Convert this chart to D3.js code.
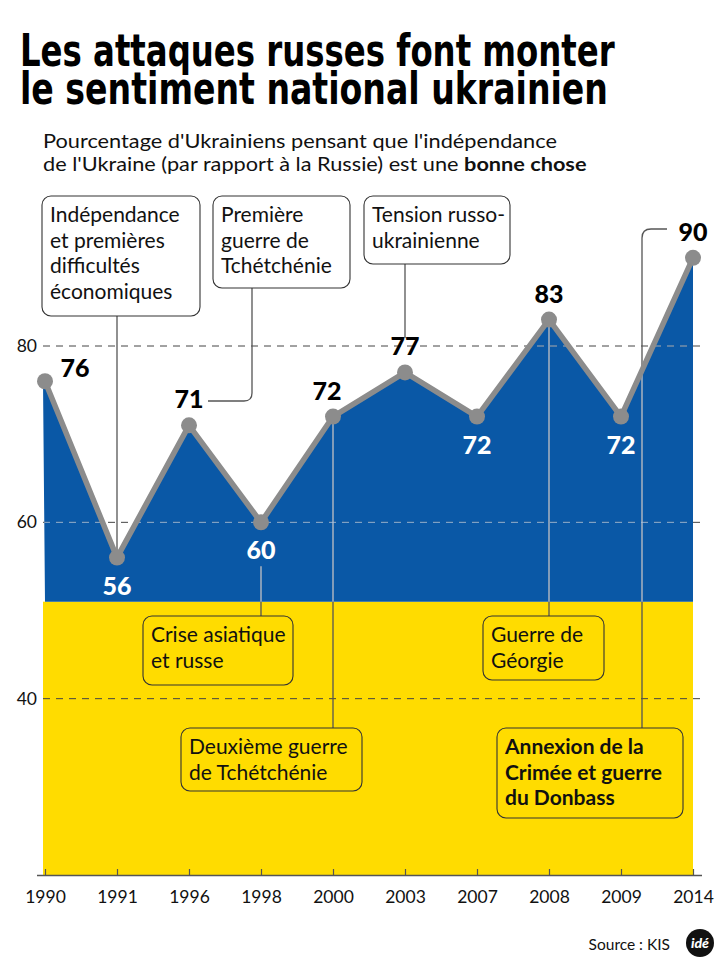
<!DOCTYPE html>
<html><head><meta charset="utf-8">
<script src="https://cdn.jsdelivr.net/npm/d3@7"></script>
<style>
html,body{margin:0;padding:0;background:#fff;}
svg{display:block;}
</style></head>
<body>
<svg id="c" width="720" height="960"></svg>
<script>
// ---- data ----
const years = ["1990","1991","1996","1998","2000","2003","2007","2008","2009","2014"];
const values = [76,56,71,60,72,77,72,83,72,90];
const yTicks = [40,60,80];
const splitValue = 51;
const titleLines = ["Les attaques russes font monter","le sentiment national ukrainien"];
const subtitleLine1 = "Pourcentage d'Ukrainiens pensant que l'indépendance";
const subtitleLine2a = "de l'Ukraine (par rapport à la Russie) est une ";
const subtitleLine2b = "bonne chose";
const noteTexts = [
  ["Indépendance","et premières","difficultés","économiques"],
  ["Première","guerre de","Tchétchénie"],
  ["Tension russo-","ukrainienne"],
  ["Crise asiatique","et russe"],
  ["Deuxième guerre","de Tchétchénie"],
  ["Guerre de","Géorgie"],
  ["Annexion de la","Crimée et guerre","du Donbass"]
];
const sourceText = "Source : KIS";

// ---- layout ----
const sans = "'Lato','Open Sans','DejaVu Sans',sans-serif";
const cond = "'Liberation Sans Narrow','DejaVu Sans Condensed','Roboto Condensed',sans-serif";
const BLUE = "#0a58a6", YELLOW = "#ffdc00", LINEGRAY = "#8c8c8c";

const svg = d3.select("#c");
const x = d3.scalePoint().domain(years).range([45, 693]);
const y = d3.scaleLinear().domain([20, 80]).range([875, 346]);
const data = years.map((yr,i)=>({year:yr, value:values[i]}));

// title: condensed by horizontal scaling to the reference width
titleLines.forEach((t,i)=>{
  const g = svg.append("g");
  const tx = g.append("text").attr("x",0).attr("y",0)
    .attr("font-family",cond).attr("font-weight","bold").attr("font-size",44)
    .attr("fill","#000").text(t);
  const w = tx.node().getComputedTextLength();
  const target = i===0 ? 595 : 588;
  g.attr("transform",`translate(20,${[66,104][i]}) scale(${(target/w).toFixed(4)},1)`);
});
// subtitle
const s1 = svg.append("g");
const s1t = s1.append("text").attr("font-family",sans).attr("font-size",18.5).attr("fill","#111").text(subtitleLine1);
s1.attr("transform",`translate(43,148) scale(${(514/s1t.node().getComputedTextLength()).toFixed(4)},1)`);
const s2 = svg.append("g");
const s2t = s2.append("text").attr("font-family",sans).attr("font-size",18.5).attr("fill","#111");
s2t.append("tspan").text(subtitleLine2a);
s2t.append("tspan").attr("font-weight","bold").text(subtitleLine2b);
s2.attr("transform",`translate(43,171) scale(${(544/s2t.node().getComputedTextLength()).toFixed(4)},1)`);

// yellow band
const x0 = 43, x1 = 693;
svg.append("rect").attr("x",x0).attr("y",y(splitValue)).attr("width",x1-x0)
  .attr("height",y(20)-y(splitValue)).attr("fill",YELLOW);

// blue area
const area = d3.area().x(d=>x(d.year)).y0(y(splitValue)).y1(d=>y(d.value));
const areaPath = area(data).replace(/^M[\d.]+/, "M"+x0);
svg.append("path").attr("d", areaPath).attr("fill",BLUE);
svg.append("clipPath").attr("id","blueclip").append("path").attr("d",areaPath);

// gridlines
const grid = svg.append("g");
yTicks.forEach(v=>{
  grid.append("line").attr("x1",x0).attr("x2",702).attr("y1",y(v)).attr("y2",y(v))
    .attr("stroke","#444").attr("stroke-width",1).attr("stroke-dasharray","7,6");
});
// y tick labels
yTicks.forEach(v=>{
  svg.append("text").attr("x",37).attr("y",y(v)+6).attr("text-anchor","end")
    .attr("font-family",sans).attr("font-size",17.5).attr("fill","#111").text(v);
});

// note boxes
const noteLayout = [
  {x:42, y:196, w:158, h:120, fill:"#fff"},
  {x:213,y:196, w:137, h:92, fill:"#fff"},
  {x:364,y:196, w:146, h:68, fill:"#fff"},
  {x:143,y:616, w:150, h:69, fill:YELLOW},
  {x:181,y:728, w:181, h:63, fill:YELLOW},
  {x:483,y:616, w:121, h:64, fill:YELLOW},
  {x:497,y:728, w:186, h:90, fill:YELLOW, bold:true}
];
const valOf = yr => values[years.indexOf(yr)];
const leaderPaths = [
  `M${x("1991")},316V${y(valOf("1991"))}`,
  `M252,288V393Q252,401 244,401H208`,
  `M${x("2003")},264V338`,
  `M${x("1998")},${y(valOf("1998"))+44}V616`,
  `M${x("2000")},${y(valOf("2000"))}V728`,
  `M${x("2008")},${y(valOf("2008"))}V616`,
  `M642,728V238Q642,229 651,229H667`
];
const leaders = svg.append("g");
leaderPaths.forEach(p=>{
  leaders.append("path").attr("d",p).attr("fill","none").attr("stroke","#555").attr("stroke-width",1.3);
});
// light overlay on blue
const over = svg.append("g").attr("clip-path","url(#blueclip)");
yTicks.forEach(v=>{
  over.append("line").attr("x1",x0).attr("x2",702).attr("y1",y(v)).attr("y2",y(v))
    .attr("stroke","#8fb4dc").attr("stroke-width",1).attr("stroke-dasharray","7,6");
});
leaderPaths.forEach(p=>{
  over.append("path").attr("d",p).attr("fill","none").attr("stroke","#a9c3e0").attr("stroke-width",1.3);
});

noteLayout.forEach((L,i)=>{
  const g = svg.append("g");
  g.append("rect").attr("x",L.x).attr("y",L.y).attr("width",L.w).attr("height",L.h)
    .attr("rx",9).attr("fill",L.fill).attr("stroke","#333").attr("stroke-width",1.1);
  noteTexts[i].forEach((t,j)=>{
    g.append("text").attr("x",L.x+8).attr("y",L.y+26+j*25.5)
      .attr("font-family",sans).attr("font-size",21)
      .attr("font-weight",L.bold?"bold":"normal").attr("fill","#111").text(t);
  });
});

// line + points
const line = d3.line().x(d=>x(d.year)).y(d=>y(d.value));
svg.append("path").attr("d",line(data)).attr("fill","none").attr("stroke",LINEGRAY)
  .attr("stroke-width",5.5).attr("stroke-linejoin","round");
svg.selectAll("circle.pt").data(data).join("circle").attr("class","pt")
  .attr("cx",d=>x(d.year)).attr("cy",d=>y(d.value)).attr("r",8).attr("fill",LINEGRAY);

// value labels
const labelPos = ["right","below","above","below","above","above","below","above","below","above"];
data.forEach((d,i)=>{
  const p = labelPos[i];
  let lx = x(d.year), ly = y(d.value), col="#000";
  if(p==="right"){ lx += 30; ly -= 4; }
  else if(p==="above"){ ly -= 17; if(d.year==="2000") lx -= 6; }
  else { ly += 37; col="#fff"; }
  svg.append("text").attr("x",lx).attr("y",ly).attr("text-anchor","middle")
    .attr("font-family",sans).attr("font-weight","900").attr("font-size",25)
    .attr("fill",col).text(d.value);
});

// x axis
const ax = svg.append("g").attr("transform",`translate(0,${y(20)})`)
  .call(d3.axisBottom(x).tickSizeInner(-6).tickSizeOuter(0).tickPadding(16));
ax.select(".domain").attr("d","M37,0.5H702").attr("stroke","#555").attr("stroke-width",1.3);
ax.selectAll(".tick line").attr("stroke","#555").attr("stroke-width",1.2);
ax.selectAll(".tick text").attr("font-family",sans).attr("font-size",17.5).attr("fill","#111");

// source + logo
svg.append("text").attr("x",670).attr("y",950).attr("text-anchor","end")
  .attr("font-family",sans).attr("font-size",15.5).attr("fill","#111").text(sourceText);
svg.append("circle").attr("cx",700).attr("cy",943).attr("r",14).attr("fill","#111");
svg.append("text").attr("x",700).attr("y",948).attr("text-anchor","middle")
  .attr("font-family",sans).attr("font-weight","900").attr("font-style","italic")
  .attr("font-size",14).attr("fill","#fff").text("idé");
</script>
</body></html>
